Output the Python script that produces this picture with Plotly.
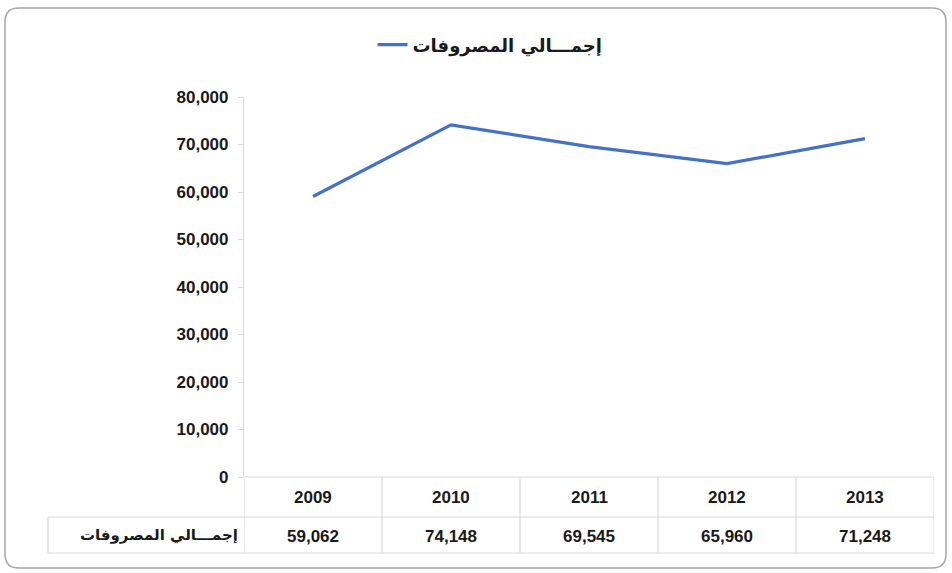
import plotly.graph_objects as go

# ---- data ----
years = ["2009", "2010", "2011", "2012", "2013"]
expenses = [59062, 74148, 69545, 65960, 71248]
series_name = "إجمـــالي المصروفات"
y_ticks = [0, 10000, 20000, 30000, 40000, 50000, 60000, 70000, 80000]

# ---- layout geometry (pixels) ----
W, H = 952, 573
L, R, T, B = 244, 18, 97, 96
PW, PH = W - L - R, H - T - B


def px_x(px):
    return (px - L) / PW


def px_y(py):
    return (H - B - py) / PH


LINE_COLOR = "#4472C4"
GRID = "#d9d9d9"
TXT = "#1a1a1a"
NUM_FONT = dict(family="Liberation Sans Narrow, Arial Narrow, Liberation Sans, sans-serif",
                size=17, color=TXT, weight="bold")
AR_FONT = dict(family="DejaVu Sans, Noto Sans, sans-serif", size=15, color=TXT, weight="bold")

fig = go.Figure()
fig.add_trace(go.Scatter(
    x=years, y=expenses, mode="lines", name=series_name,
    line=dict(color=LINE_COLOR, width=3.2),
))

shapes = []
row_top = 0
row_mid = px_y(517)
row_bot = px_y(553)
n = len(years)
for yv in (row_mid, row_bot):
    shapes.append(dict(type="line", xref="x", yref="paper", x0=-0.5, x1=n - 0.5,
                       y0=yv, y1=yv, line=dict(color=GRID, width=1.2)))
for i in range(n + 1):
    shapes.append(dict(type="line", xref="x", yref="paper", x0=i - 0.5, x1=i - 0.5,
                       y0=row_top, y1=row_bot, line=dict(color=GRID, width=1.2)))
shapes.append(dict(type="line", xref="x", yref="paper", x0=-0.5, x1=n - 0.5,
                   y0=0, y1=0, line=dict(color=GRID, width=1.2)))
# header cell for the series name
hx = px_x(48)
for yv in (row_mid, row_bot):
    shapes.append(dict(type="line", xref="paper", yref="paper", x0=hx, x1=0,
                       y0=yv, y1=yv, line=dict(color=GRID, width=1.2)))
shapes.append(dict(type="line", xref="paper", yref="paper", x0=hx, x1=hx,
                   y0=row_mid, y1=row_bot, line=dict(color=GRID, width=1.2)))

# outer rounded border
x0, x1 = px_x(5), px_x(946)
y0, y1 = px_y(568), px_y(8)
rx, ry = 14 / PW, 14 / PH
path = (f"M {x0+rx},{y1} L {x1-rx},{y1} Q {x1},{y1} {x1},{y1-ry} "
        f"L {x1},{y0+ry} Q {x1},{y0} {x1-rx},{y0} L {x0+rx},{y0} "
        f"Q {x0},{y0} {x0},{y0+ry} L {x0},{y1-ry} Q {x0},{y1} {x0+rx},{y1} Z")
shapes.append(dict(type="path", xref="paper", yref="paper", path=path,
                   line=dict(color="#a6a6a6", width=1.5)))

annotations = []
for i, (yr, v) in enumerate(zip(years, expenses)):
    annotations.append(dict(x=i, y=px_y(497), xref="x", yref="paper", text=yr,
                            showarrow=False, font=NUM_FONT, xanchor="center", yanchor="middle"))
    annotations.append(dict(x=i, y=px_y(536), xref="x", yref="paper", text=f"{v:,}",
                            showarrow=False, font=NUM_FONT, xanchor="center", yanchor="middle"))
annotations.append(dict(x=px_x(240), y=px_y(535), xref="paper", yref="paper", text=series_name,
                        showarrow=False, font=AR_FONT, xanchor="right", yanchor="middle"))

fig.update_layout(
    width=W, height=H,
    margin=dict(l=L, r=R, t=T, b=B),
    paper_bgcolor="white", plot_bgcolor="white",
    showlegend=True,
    legend=dict(orientation="h", x=px_x(490), xanchor="center", y=px_y(45), yanchor="middle",
                font=dict(family="DejaVu Sans, sans-serif", size=18, color=TXT, weight="bold"),
                bgcolor="rgba(0,0,0,0)"),
    xaxis=dict(type="category", range=[-0.5, n - 0.5], showticklabels=False, showgrid=False,
               showline=False, zeroline=False, ticks=""),
    yaxis=dict(range=[0, 80000], tickvals=y_ticks, tickformat=",", showgrid=False,
               showline=True, linecolor=GRID, linewidth=1.2, ticks="outside", ticklen=5,
               tickcolor=GRID, zeroline=False, tickfont=NUM_FONT, ticklabelstandoff=6),
    shapes=shapes,
    annotations=annotations,
)

fig.write_html("out.html")
